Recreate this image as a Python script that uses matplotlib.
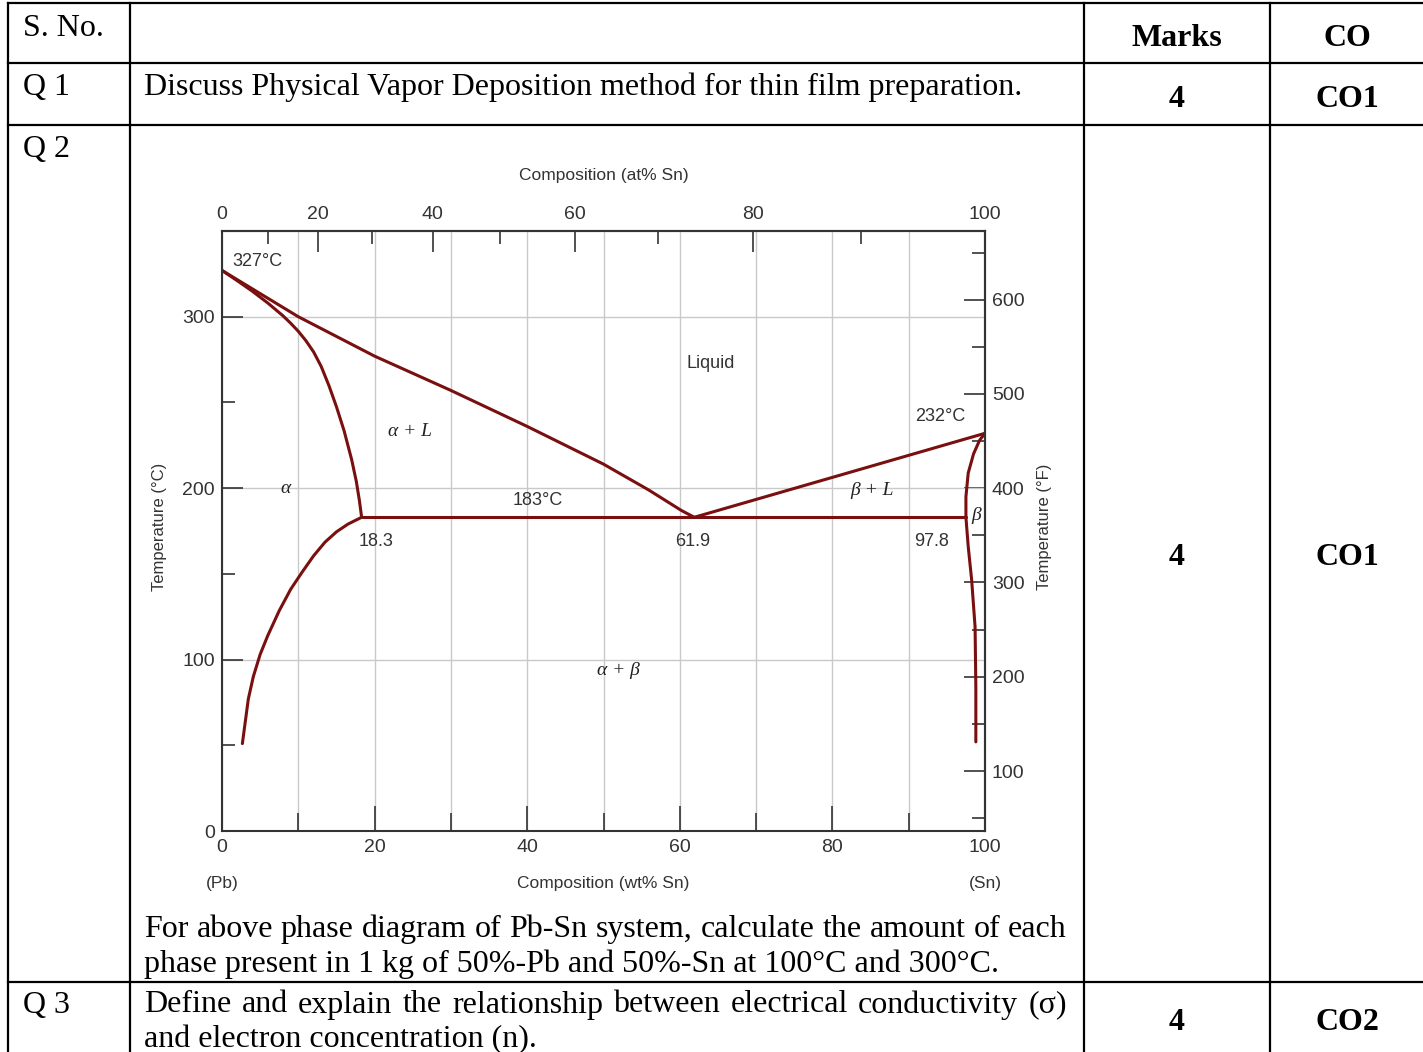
import matplotlib
matplotlib.use('Agg')
import matplotlib.pyplot as plt
import numpy as np
from matplotlib.lines import Line2D

# ---------------- data ----------------
# Pb-Sn phase diagram curves (wt% Sn, temperature degC)
liq_left_wt = [0, 10, 20, 30, 40, 50, 55.9, 60.2, 61.9]
liq_left_T = [327, 300, 277, 257, 236, 214, 199, 187, 183]
sol_alpha_wt = [0, 2, 4, 6, 8, 9, 10, 11, 12, 13, 14, 15, 16, 17, 17.6, 18, 18.3]
sol_alpha_T = [327, 321, 314.8, 308, 300.5, 296.2, 291.5, 286, 279.5, 271, 260,
               247.5, 233.5, 216.5, 204, 193, 183]
solv_alpha_wt = [18.3, 16.5, 15, 13.5, 12, 10.5, 9, 7.5, 6, 5, 4.1, 3.45, 2.67]
solv_alpha_T = [183, 179, 174.5, 168.5, 160.5, 151, 141, 128.5, 114, 103, 90, 77, 51]
liq_right_wt = [61.9, 100]
liq_right_T = [183, 232]
sol_beta_wt = [100, 99.3, 98.5, 97.8, 97.5, 97.5]
sol_beta_T = [232, 228, 220, 208.8, 195, 183]
solv_beta_wt = [97.5, 97.8, 98.25, 98.7, 98.8, 98.8]
solv_beta_T = [183, 166, 146.5, 119, 84, 52]
eutectic_wt = [18.3, 97.5]
eutectic_T = [183, 183]

wt_major = [0, 20, 40, 60, 80, 100]
wt_minor = [10, 30, 50, 70, 90]
at_major = [0, 20, 40, 60, 80, 100]
at_minor = [10, 30, 50, 70, 90]
c_major = [0, 100, 200, 300]
c_minor = [50, 150, 250, 350]
f_major = [100, 200, 300, 400, 500, 600]
f_minor = [50, 150, 250, 350, 450, 550, 650]

# region / point labels: (text, wt, T)
point_labels = [('327°C', 1.4, 332, 'left'), ('Liquid', 64, 272.6, 'center'),
                ('183°C', 41.4, 193, 'center'), ('18.3', 20.2, 169, 'center'),
                ('61.9', 61.7, 169, 'center'), ('97.8', 93.0, 169, 'center'),
                ('232°C', 94.2, 242, 'center')]
phase_labels = [('α + L', 24.6, 233), ('α', 8.3, 199.6), ('β + L', 85.2, 198.5),
                ('β', 98.8, 184), ('α + β', 52, 93.4)]

# table texts
headers = ['S. No.', '', 'Marks', 'CO']
q_nums = ['Q 1', 'Q 2', 'Q 3']
marks = ['4', '4', '4']
cos = ['CO1', 'CO1', 'CO2']
q1_text = 'Discuss Physical Vapor Deposition method for thin film preparation.'
q2_lines = ['For above phase diagram of Pb-Sn system, calculate the amount of each',
            'phase present in 1 kg of 50%-Pb and 50%-Sn at 100°C and 300°C.']
q3_lines = ['Define and explain the relationship between electrical conductivity (σ)',
            'and electron concentration (n).']

M_SN, M_PB = 118.71, 207.2
# Fahrenheit scale as drawn in the picture: degC = F_C0 + F_K * (degF - 100)
F_C0, F_K = 35.0, 0.5498

# ---------------- figure ----------------
W, H = 1423, 1052
fig = plt.figure(figsize=(14.23, 10.52), dpi=100)
fig.patch.set_facecolor('white')
SERIF = 'Liberation Serif'
SANS = 'Liberation Sans'
TS = 23


def fx(x):
    return x / W


def fy(y):
    return 1 - y / H


# table grid
for y in [3, 63, 125, 982]:
    fig.add_artist(Line2D([fx(8), fx(1423)], [fy(y), fy(y)], color='black', lw=1.6))
for x in [8, 130, 1084, 1270]:
    fig.add_artist(Line2D([fx(x), fx(x)], [fy(3), fy(1052)], color='black', lw=1.6))

fig.text(fx(23), fy(35.5), headers[0], family=SERIF, fontsize=TS, va='baseline')
fig.text(fx(1177), fy(46), headers[2], family=SERIF, fontsize=TS, va='baseline',
         ha='center', weight='bold')
fig.text(fx(1347), fy(46), headers[3], family=SERIF, fontsize=TS, va='baseline',
         ha='center', weight='bold')

row_base = [95.5, 157, 1012.5]
mark_base = [107, 565, 1030]
for q, m, c, yb, ym in zip(q_nums, marks, cos, row_base, mark_base):
    fig.text(fx(23), fy(yb), q, family=SERIF, fontsize=TS, va='baseline')
    fig.text(fx(1177), fy(ym), m, family=SERIF, fontsize=TS, va='baseline',
             ha='center', weight='bold')
    fig.text(fx(1347), fy(ym), c, family=SERIF, fontsize=TS, va='baseline',
             ha='center', weight='bold')

renderer = fig.canvas.get_renderer()


def justified(text, x0, x1, y):
    words = text.split(' ')
    arts = [fig.text(0, fy(y), w, family=SERIF, fontsize=TS, va='baseline') for w in words]
    widths = [a.get_window_extent(renderer).width for a in arts]
    gap = (x1 - x0 - sum(widths)) / (len(words) - 1)
    x = x0
    for a, w in zip(arts, widths):
        a.set_x(fx(x))
        x += w + gap


fig.text(fx(144), fy(95.5), q1_text, family=SERIF, fontsize=TS, va='baseline')
justified(q2_lines[0], 144, 1067, 937)
fig.text(fx(144), fy(972), q2_lines[1], family=SERIF, fontsize=TS, va='baseline')
justified(q3_lines[0], 144, 1067, 1012.5)
fig.text(fx(144), fy(1047.5), q3_lines[1], family=SERIF, fontsize=TS, va='baseline')

# ---------------- phase diagram ----------------
ax = fig.add_axes([fx(222), fy(831), (985 - 222) / W, (831 - 231) / H])
ax.set_xlim(0, 100)
ax.set_ylim(0, 350)
ax.set_axisbelow(True)

GRAY = '#333333'
RED = '#7a0f0f'
for xs, ys in [(liq_left_wt, liq_left_T), (sol_alpha_wt, sol_alpha_T),
               (solv_alpha_wt, solv_alpha_T), (liq_right_wt, liq_right_T),
               (sol_beta_wt, sol_beta_T), (solv_beta_wt, solv_beta_T),
               (eutectic_wt, eutectic_T)]:
    ax.plot(xs, ys, color=RED, lw=2.2, solid_capstyle='round', solid_joinstyle='round')

TL = 14
ax.set_xticks(wt_major)
ax.set_xticks(wt_minor, minor=True)
ax.set_yticks(c_major)
ax.set_yticks(c_minor, minor=True)
ax.grid(axis='x', which='both', color='#c9c9c9', lw=1.0)
ax.grid(axis='y', which='major', color='#c9c9c9', lw=1.0)
ax.tick_params(axis='x', which='major', direction='in', length=18, width=1.2,
               color=GRAY, pad=6, labelsize=TL, labelcolor=GRAY)
ax.tick_params(axis='x', which='minor', direction='in', length=13, width=1.2, color=GRAY)
ax.tick_params(axis='y', which='major', direction='in', length=15, width=1.2,
               color=GRAY, pad=5, labelsize=TL, labelcolor=GRAY)
ax.tick_params(axis='y', which='minor', direction='in', length=9.5, width=1.2, color=GRAY)
for lab in ax.get_xticklabels() + ax.get_yticklabels():
    lab.set_family(SANS)
for s in ax.spines.values():
    s.set_color(GRAY)
    s.set_linewidth(1.5)


def wt2at(w):
    w = np.clip(np.asarray(w, dtype=float), 0, 100)
    a = w / M_SN
    b = (100 - w) / M_PB
    return 100 * a / (a + b)


def at2wt(at):
    at = np.clip(np.asarray(at, dtype=float), 0, 100)
    a = at * M_SN
    b = (100 - at) * M_PB
    return 100 * a / (a + b)


secx = ax.secondary_xaxis('top', functions=(wt2at, at2wt))
secx.set_xticks(at_major)
secx.set_xticks(at_minor, minor=True)
secx.tick_params(which='major', direction='in', length=15, width=1.2, color=GRAY,
                 pad=6, labelsize=TL, labelcolor=GRAY)
secx.tick_params(which='minor', direction='in', length=9.5, width=1.2, color=GRAY)
for lab in secx.get_xticklabels():
    lab.set_family(SANS)
secx.spines['top'].set_color(GRAY)
secx.spines['top'].set_linewidth(1.5)


def c2f(c):
    return 100 + (np.asarray(c, dtype=float) - F_C0) / F_K


def f2c(f):
    return F_C0 + F_K * (np.asarray(f, dtype=float) - 100)


secy = ax.secondary_yaxis('right', functions=(c2f, f2c))
secy.set_yticks(f_major)
secy.set_yticks(f_minor, minor=True)
secy.tick_params(which='major', direction='in', length=15, width=1.2, color=GRAY,
                 pad=5, labelsize=TL, labelcolor=GRAY)
secy.tick_params(which='minor', direction='in', length=9.5, width=1.2, color=GRAY)
for lab in secy.get_yticklabels():
    lab.set_family(SANS)
secy.spines['right'].set_color(GRAY)
secy.spines['right'].set_linewidth(1.5)

for txt, xv, yv, ha in point_labels:
    ax.text(xv, yv, txt, ha=ha, va='center', fontsize=13, family=SANS, color=GRAY)
for txt, xv, yv in phase_labels:
    ax.text(xv, yv, txt, ha='center', va='center', fontsize=14, family=SERIF,
            style='italic', color='#222222')

xt = ax.get_xaxis_transform()
ax.text(0, -0.088, '(Pb)', transform=xt, ha='center', va='center', fontsize=12.5,
        family=SANS, color=GRAY)
ax.text(100, -0.088, '(Sn)', transform=xt, ha='center', va='center', fontsize=12.5,
        family=SANS, color=GRAY)
ax.text(50, -0.088, 'Composition (wt% Sn)', transform=xt, ha='center', va='center',
        fontsize=12.5, family=SANS, color=GRAY)
ax.text(50, 1.092, 'Composition (at% Sn)', transform=xt, ha='center', va='center',
        fontsize=12.5, family=SANS, color=GRAY)
ax.text(-0.0813, 0.507, 'Temperature (°C)', transform=ax.transAxes, rotation=90,
        ha='center', va='center', fontsize=12, family=SANS, color=GRAY)
ax.text(1.0786, 0.507, 'Temperature (°F)', transform=ax.transAxes, rotation=90,
        ha='center', va='center', fontsize=12, family=SANS, color=GRAY)

fig.savefig('out.png', dpi=100, facecolor='white')
